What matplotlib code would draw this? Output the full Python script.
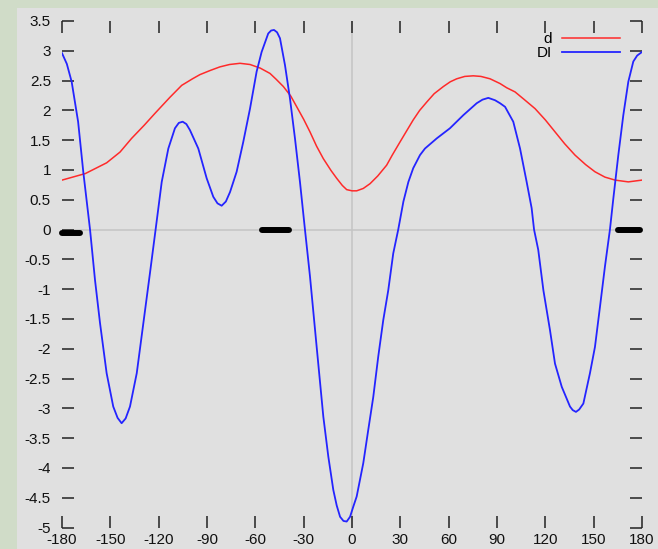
import matplotlib
matplotlib.use("Agg")
import matplotlib.pyplot as plt
from matplotlib.patches import Rectangle
from matplotlib.ticker import FuncFormatter

# ##### Data
d_x = [-180, -165.5, -152.3, -144, -136.8, -129, -122.3, -113, -105.7, -99, -94.4, -88, -82,
       -76, -69.5, -63.3, -57, -50.9, -47, -42.6, -38, -34.3, -30, -26.1, -22, -17.8, -13,
       -9.5, -6, -3.3, 0, 2.9, 7, 11.2, 16, 21.5, 25, 29.8, 34, 38, 42, 46.4, 51, 56.7, 61,
       65, 70, 75.3, 80, 85.7, 91.9, 96, 101.2, 107, 113.6, 120, 126, 132, 138.4, 145,
       150.8, 157, 163.3, 171.5, 180]
d_y = [0.83, 0.94, 1.12, 1.30, 1.53, 1.75, 1.95, 2.22, 2.42, 2.53, 2.60, 2.67, 2.73,
       2.77, 2.79, 2.77, 2.71, 2.62, 2.52, 2.40, 2.24, 2.06, 1.85, 1.64, 1.40, 1.19, 0.99,
       0.86, 0.74, 0.67, 0.65, 0.65, 0.69, 0.77, 0.90, 1.08, 1.25, 1.47, 1.66, 1.84, 2.00,
       2.14, 2.28, 2.40, 2.48, 2.53, 2.57, 2.58, 2.57, 2.53, 2.45, 2.38, 2.31, 2.18, 2.03,
       1.84, 1.64, 1.44, 1.25, 1.09, 0.97, 0.88, 0.83, 0.80, 0.83]

di_x = [-180, -177, -174, -170, -166.8, -162.6, -159.5, -156.4, -152.3, -148.2, -145.5, -143,
        -140.5, -137.8, -133.6, -129.5, -125.4, -121.9, -118.1, -114, -109.9, -107.5,
        -105.1, -102.8, -100.6, -95.4, -90.2, -86.1, -83.5, -80.9, -78.3, -75.7, -71.6,
        -67.5, -63.3, -59.2, -56.1, -52, -50.2, -48.4, -46.5, -44.7, -41.6, -38.5, -35.4,
        -32.3, -29.2, -26.1, -22, -17.8, -14.7, -11.6, -9.5, -7.4, -5.3, -3.3, -1.2, 0.8,
        2.9, 7, 10.1, 13.2, 16.3, 19.4, 22.5, 25.6, 28.7, 31.9, 35, 38, 42.2, 45.3, 52.6,
        60.8, 69.1, 77.4, 81, 84.6, 88.8, 91.9, 95, 100.1, 104.3, 108.4, 111.5, 113, 115.6,
        118.8, 122.9, 126, 130.2, 135.3, 137, 139, 141, 143.6, 147.7, 150.8, 153.9, 157,
        160.1, 162.2, 165.3, 168.4, 171.5, 174.6, 177, 180]
di_y = [2.96, 2.78, 2.48, 1.81, 0.97, 0.0, -0.85, -1.57, -2.41, -2.97, -3.16, -3.25,
        -3.17, -2.97, -2.41, -1.57, -0.73, 0.0, 0.80, 1.36, 1.70, 1.79,
        1.81, 1.77, 1.67, 1.36, 0.86, 0.55, 0.44, 0.40, 0.47, 0.63, 0.97,
        1.47, 2.03, 2.65, 2.98, 3.29, 3.34, 3.35, 3.31, 3.21, 2.76, 2.20, 1.53,
        0.80, 0.0, -0.78, -1.95, -3.14, -3.81, -4.37, -4.63, -4.82, -4.89, -4.90, -4.82, -4.65,
        -4.48, -3.92, -3.36, -2.81, -2.13, -1.52, -1.02, -0.40, 0.0, 0.47, 0.80, 1.03,
        1.25, 1.36, 1.53, 1.70, 1.92, 2.12, 2.18, 2.21, 2.17, 2.12, 2.06, 1.81, 1.36,
        0.80, 0.36, 0.0, -0.34, -1.02, -1.69, -2.25, -2.64, -2.97, -3.03, -3.06, -3.02,
        -2.92, -2.41, -1.97, -1.30, -0.62, 0.0, 0.52, 1.25, 1.92, 2.48, 2.82, 2.92, 2.98]

# black segments lying on the zero line
bar_start = [-180, -56, 165]
bar_end = [-169, -39, 179]
bar_level = [-0.05, 0, 0]

x_ticks = [-180, -150, -120, -90, -60, -30, 0, 30, 60, 90, 120, 150, 180]
y_ticks = [-5, -4.5, -4, -3.5, -3, -2.5, -2, -1.5, -1, -0.5, 0, 0.5, 1, 1.5, 2, 2.5, 3, 3.5]


def main():
    plt.rcParams['font.family'] = ['Liberation Sans', 'DejaVu Sans']
    plt.rcParams['axes.unicode_minus'] = False

    fig = plt.figure(figsize=(6.58, 5.49), dpi=100, facecolor="#d0dcc8")
    # grey panel behind the plot
    fig.patches.append(Rectangle((17 / 658, 0), 1, 1 - 8 / 549, transform=fig.transFigure,
                                 facecolor="#e0e0e0", edgecolor="none", zorder=-5))

    ax = fig.add_axes([62 / 658, 1 - 527.5 / 549, 580 / 658, 506.5 / 549])
    ax.set_zorder(2)
    ax.set_facecolor("#e0e0e0")
    for spine in ax.spines.values():
        spine.set_visible(False)

    ax.axhline(0, color="#c4c4c4", lw=1.1, zorder=1)
    ax.axvline(0, color="#c4c4c4", lw=1.1, zorder=1)

    ax.plot(d_x, d_y, color="#ff2a2a", lw=1.1, label="d", zorder=3)
    ax.plot(di_x, di_y, color="#2424ff", lw=1.3, label="DI", zorder=3)

    for x0, x1, yv in zip(bar_start, bar_end, bar_level):
        ax.plot([x0, x1], [yv, yv], color="black", lw=4.3, solid_capstyle="round",
                zorder=4, clip_on=False)

    ax.set_xlim(-180, 180)
    ax.set_ylim(-5, 3.5)
    ax.set_xticks(x_ticks)
    ax.set_yticks(y_ticks)
    fmt = FuncFormatter(lambda v, p: "%g" % v)
    ax.xaxis.set_major_formatter(fmt)
    ax.yaxis.set_major_formatter(fmt)
    ax.tick_params(direction="in", length=8.6, width=1.1, color="#222222",
                   labelsize=11, labelcolor="#111111", top=True, right=True)
    ax.tick_params(axis="y", pad=8)
    ax.tick_params(axis="x", pad=4)

    ax.legend(loc="upper right", bbox_to_anchor=(0.962, 0.978), frameon=False,
              markerfirst=False, fontsize=11, handlelength=3.8, handletextpad=0.65,
              labelspacing=0.0, borderaxespad=0, borderpad=0)

    fig.savefig("out.png", dpi=100, facecolor=fig.get_facecolor())


if __name__ == "__main__":
    main()
